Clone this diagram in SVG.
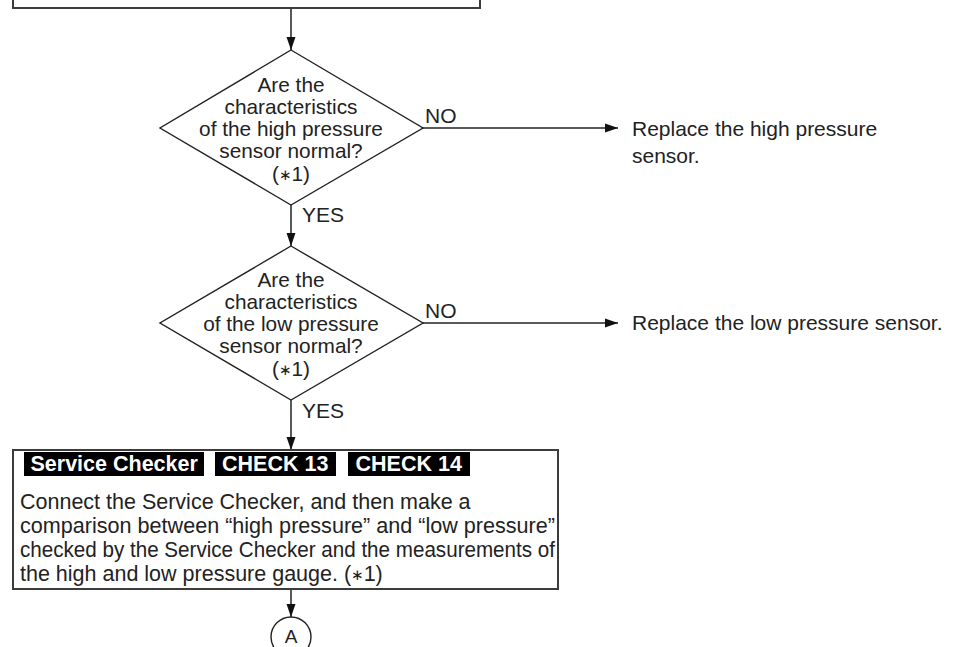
<svg xmlns="http://www.w3.org/2000/svg" width="956" height="647" viewBox="0 0 956 647">
<style>
.t{font-family:"Liberation Sans",Arial,sans-serif;font-size:21px;fill:#222}
.b{font-family:"Liberation Sans",Arial,sans-serif;font-size:21.5px;fill:#222}
.d{font-family:"Liberation Sans",Arial,sans-serif;font-size:20.8px;fill:#222;text-anchor:middle}
.lb{font-family:"Liberation Sans",Arial,sans-serif;font-size:21.5px;font-weight:bold;fill:#fff}
.ast{font-size:15px;font-family:"DejaVu Sans",sans-serif}
.box{fill:#fff;stroke:#3c3c3c;stroke-width:2}
.dia{fill:#fff;stroke:#222;stroke-width:1.4}
.ln{fill:none;stroke:#222;stroke-width:1.5}
</style>
<defs>
<marker id="ah" markerUnits="userSpaceOnUse" markerWidth="14" markerHeight="10" refX="13" refY="5" orient="auto">
<path d="M0,0.5 L13,5 L0,9.5 z" fill="#111"/>
</marker>
</defs>
<rect width="956" height="647" fill="#fff"/>
<g id="connectors">
<line class="ln" x1="291" y1="9" x2="291" y2="50" marker-end="url(#ah)"/>
<line class="ln" x1="291" y1="205" x2="291" y2="246" marker-end="url(#ah)"/>
<line class="ln" x1="291" y1="400" x2="291" y2="450" marker-end="url(#ah)"/>
<line class="ln" x1="291" y1="590" x2="291" y2="617" marker-end="url(#ah)"/>
<line class="ln" x1="423" y1="128" x2="618" y2="128" marker-end="url(#ah)"/>
<line class="ln" x1="423" y1="323" x2="618" y2="323" marker-end="url(#ah)"/>
<text class="t" x="302" y="222">YES</text>
<text class="t" x="302" y="418">YES</text>
<text class="t" x="425" y="123">NO</text>
<text class="t" x="425" y="318">NO</text>
</g>
<g id="top-box">
<rect class="box" x="13" y="-12" width="467" height="20"/>
</g>
<g id="decision-high">
<polygon class="dia" points="291,50 423,128 291,205 160,128"/>
<text class="d" x="291" y="92">Are the</text>
<text class="d" x="291" y="114">characteristics</text>
<text class="d" x="291" y="136">of the high pressure</text>
<text class="d" x="291" y="158">sensor normal?</text>
<text class="d" x="291" y="181">(<tspan class="ast" dy="-1">∗</tspan><tspan dy="1">1)</tspan></text>
</g>
<g id="replace-high">
<text class="t" x="632" y="136">Replace the high pressure</text>
<text class="t" x="632" y="163">sensor.</text>
</g>
<g id="decision-low">
<polygon class="dia" points="291,246 423,323 291,400 160,323"/>
<text class="d" x="291" y="287">Are the</text>
<text class="d" x="291" y="309">characteristics</text>
<text class="d" x="291" y="331">of the low pressure</text>
<text class="d" x="291" y="353">sensor normal?</text>
<text class="d" x="291" y="376">(<tspan class="ast" dy="-1">∗</tspan><tspan dy="1">1)</tspan></text>
</g>
<g id="replace-low">
<text class="t" x="632" y="330">Replace the low pressure sensor.</text>
</g>
<g id="check-box">
<rect class="box" x="13" y="450" width="545" height="139"/>
<rect x="24" y="452" width="180" height="24" fill="#000"/>
<text class="lb" x="30.5" y="471">Service Checker</text>
<rect x="215" y="452" width="121" height="24" fill="#000"/>
<text class="lb" x="222" y="471">CHECK 13</text>
<rect x="348" y="452" width="122" height="24" fill="#000"/>
<text class="lb" x="355.5" y="471">CHECK 14</text>
<text class="b" x="20" y="509">Connect the Service Checker, and then make a</text>
<text class="b" x="20" y="533" textLength="535" lengthAdjust="spacingAndGlyphs">comparison between “high pressure” and “low pressure”</text>
<text class="b" x="20" y="557" textLength="535" lengthAdjust="spacingAndGlyphs">checked by the Service Checker and the measurements of</text>
<text class="b" x="20" y="581">the high and low pressure gauge. (<tspan class="ast" dy="-1">∗</tspan><tspan dy="1">1)</tspan></text>
</g>
<g id="connector-A">
<circle cx="291" cy="637" r="20" fill="#fff" stroke="#222" stroke-width="1.4"/>
<text class="t" x="291" y="643" text-anchor="middle" style="font-size:19px">A</text>
</g>
</svg>
